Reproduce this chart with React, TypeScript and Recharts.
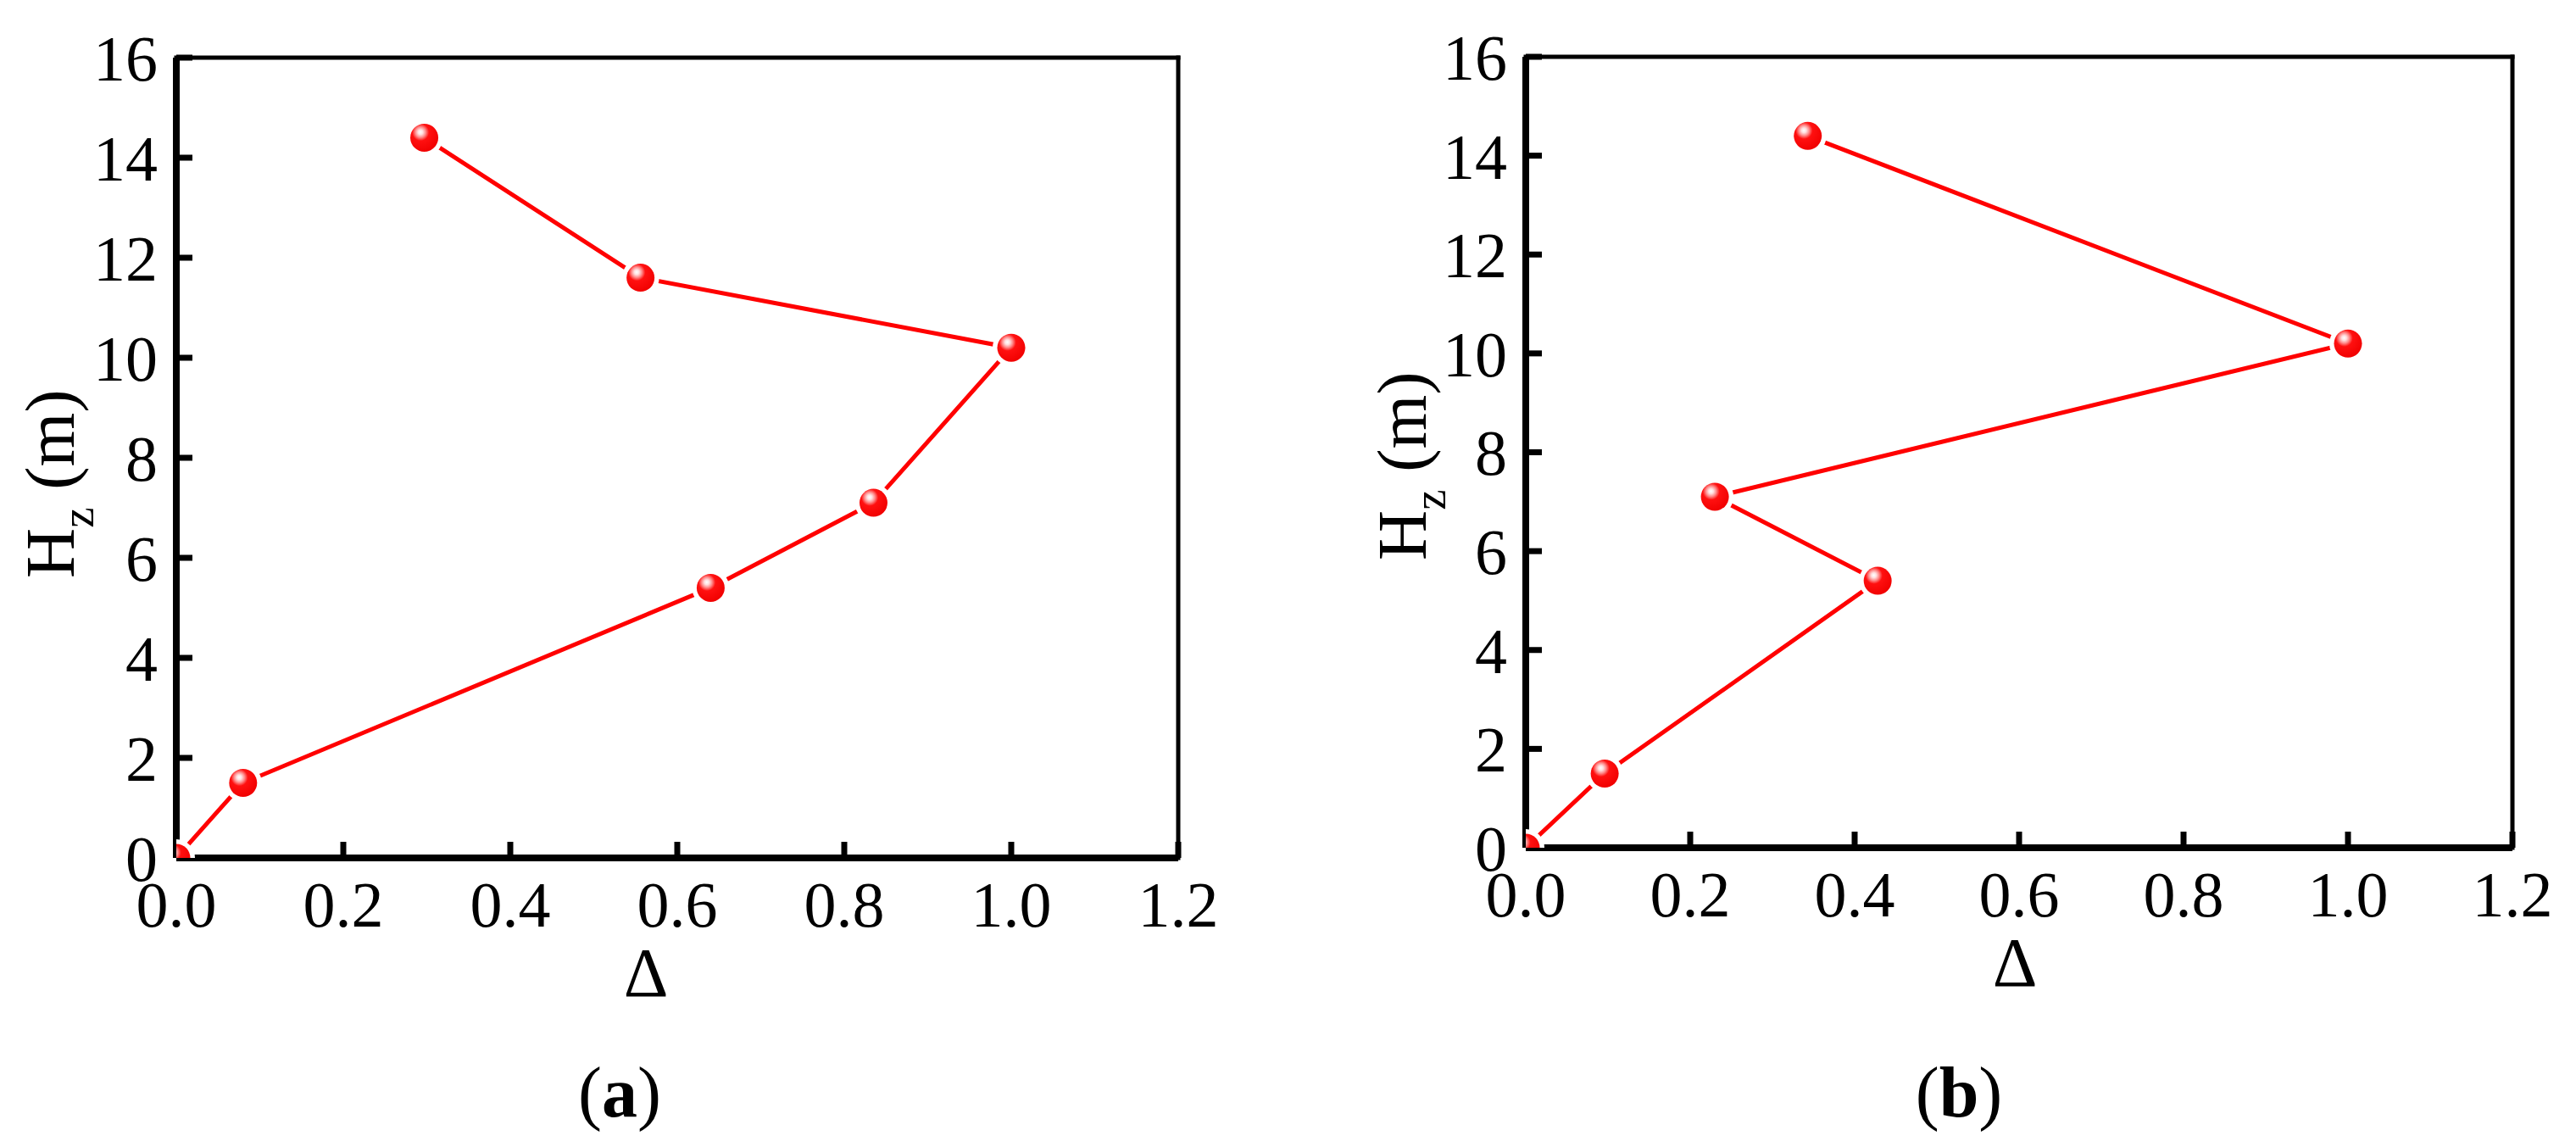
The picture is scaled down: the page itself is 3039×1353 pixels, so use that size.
import { Line, LineChart, ReferenceLine, XAxis, YAxis } from "recharts"

const FONT = '"Liberation Serif", "Times New Roman", Times, serif'
const RED = "#ff0000"

const xTicks = [0, 0.2, 0.4, 0.6, 0.8, 1.0, 1.2]
const yTicks = [0, 2, 4, 6, 8, 10, 12, 14, 16]

// panel (a): Δ vs height, listed bottom to top in drawing order
const deltaA = [0, 0.08, 0.64, 0.835, 1.0, 0.556, 0.297]
const heightA = [0, 1.5, 5.4, 7.1, 10.2, 11.6, 14.4]

// panel (b)
const deltaB = [0, 0.096, 0.428, 0.23, 1.0, 0.343]
const heightB = [0, 1.5, 5.4, 7.1, 10.2, 14.4]

const CHART_H = 1353
const X_AXIS_H = 100

type PanelProps = {
  id: string
  letter: string
  delta: number[]
  height: number[]
  pageLeft: number
  width: number
  plot: { left: number; right: number; top: number; bottom: number }
  yTitle: { x: number; y: number }
  xTitle: { x: number; y: number }
  caption: { x: number; y: number }
}

const ballDot = (gid: string) => (props: any) => {
  const { cx, cy, index } = props
  if (cx == null || cy == null) return <g key={`ball-${index}`} />
  return (
    <g key={`ball-${index}`}>
      <circle cx={cx} cy={cy} r={22} fill="#fff" />
      <circle cx={cx} cy={cy} r={16.5} fill={`url(#${gid})`} />
    </g>
  )
}

const Panel = ({ id, letter, delta, height, pageLeft, width, plot, yTitle, xTitle, caption }: PanelProps) => {
  const rows = delta.map((d, i) => ({ delta: d, h: height[i] }))
  const gid = `ball-grad-${id}`

  return (
    <div style={{ position: "absolute", left: pageLeft, top: 0, width, height: CHART_H }}>
      <LineChart
        width={width}
        height={CHART_H}
        data={rows}
        margin={{ top: plot.top, right: width - plot.right, bottom: CHART_H - plot.bottom - X_AXIS_H, left: 0 }}
      >
        <defs>
          <radialGradient id={gid} cx="38%" cy="32%" r="72%" fx="36%" fy="30%">
            <stop offset="0%" stopColor="#ffffff" />
            <stop offset="12%" stopColor="#ffe0e0" />
            <stop offset="26%" stopColor="#ff8a8a" />
            <stop offset="42%" stopColor="#ff1010" />
            <stop offset="100%" stopColor="#f00000" />
          </radialGradient>
        </defs>
        <XAxis
          dataKey="delta"
          type="number"
          domain={[0, 1.2]}
          ticks={xTicks}
          allowDataOverflow
          height={X_AXIS_H}
          tickFormatter={(v: number) => v.toFixed(1)}
          axisLine={{ stroke: "#000", strokeWidth: 8 }}
          tickLine={{ stroke: "#000", strokeWidth: 7 }}
          tickSize={-19}
          tickMargin={46}
          tick={{ fill: "#000", fontSize: 76, fontFamily: FONT }}
          label={() => (
            <g>
              <text x={xTitle.x} y={xTitle.y} textAnchor="middle" fontSize={82} fontFamily={FONT} fill="#000">
                Δ
              </text>
              <text x={caption.x} y={caption.y} textAnchor="middle" fontSize={84} fontFamily={FONT} fill="#000">
                (<tspan fontWeight="bold">{letter}</tspan>)
              </text>
            </g>
          )}
        />
        <YAxis
          type="number"
          domain={[0, 16]}
          ticks={yTicks}
          allowDataOverflow
          width={plot.left}
          axisLine={{ stroke: "#000", strokeWidth: 8 }}
          tickLine={{ stroke: "#000", strokeWidth: 7 }}
          tickSize={-19}
          tickMargin={41}
          tick={{ fill: "#000", fontSize: 76, fontFamily: FONT }}
          label={() => (
            <text
              x={yTitle.x}
              y={yTitle.y}
              transform={`rotate(-90, ${yTitle.x}, ${yTitle.y})`}
              textAnchor="start"
              fontSize={82}
              fontFamily={FONT}
              fill="#000"
            >
              H
              <tspan fontSize={55} dy={23}>
                z
              </tspan>
              <tspan dy={-23}> (m)</tspan>
            </text>
          )}
        />
        <ReferenceLine y={16} stroke="#000" strokeWidth={5} strokeLinecap="square" />
        <ReferenceLine x={1.2} stroke="#000" strokeWidth={5} strokeLinecap="square" />
        <Line
          dataKey="h"
          stroke={RED}
          strokeWidth={5}
          dot={ballDot(gid)}
          activeDot={false}
          isAnimationActive={false}
        />
      </LineChart>
    </div>
  )
}

export default function App() {
  return (
    <div style={{ position: "absolute", left: 0, top: 0, width: 3039, height: 1353, background: "#fff" }}>
      <Panel
        id="a"
        letter="a"
        delta={deltaA}
        height={heightA}
        pageLeft={0}
        width={1500}
        plot={{ left: 208, right: 1390, top: 68, bottom: 1012 }}
        yTitle={{ x: 87, y: 682 }}
        xTitle={{ x: 762, y: 1175 }}
        caption={{ x: 731, y: 1317 }}
      />
      <Panel
        id="b"
        letter="b"
        delta={deltaB}
        height={heightB}
        pageLeft={1520}
        width={1519}
        plot={{ left: 280, right: 1444, top: 67, bottom: 1000 }}
        yTitle={{ x: 162, y: 661 }}
        xTitle={{ x: 857, y: 1163 }}
        caption={{ x: 791, y: 1317 }}
      />
    </div>
  )
}
